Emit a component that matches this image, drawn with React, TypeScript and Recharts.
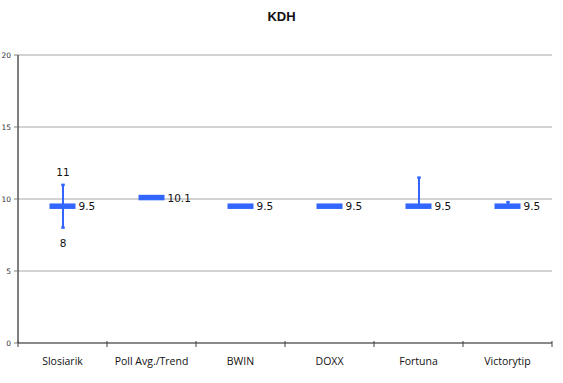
import React from 'react';
import { ComposedChart, Bar, Line, XAxis, YAxis, CartesianGrid, ReferenceLine } from 'recharts';

const categories = ['Slosiarik', 'Poll Avg./Trend', 'BWIN', 'DOXX', 'Fortuna', 'Victorytip'];
const values = [9.5, 10.1, 9.5, 9.5, 9.5, 9.5];
const highs: (number | null)[] = [11, null, null, null, 11.5, 9.8];
const lows: (number | null)[] = [8, null, null, null, 9.5, 9.5];
const highLabels = ['11', '', '', '', '', ''];
const lowLabels = ['8', '', '', '', '', ''];
const yTicks = [0, 5, 10, 15, 20];

const BLUE = '#3366ff';
const TICK_MARGIN = 15;

const data = categories.map((name, i) => ({
  name,
  value: values[i],
  range: highs[i] != null && lows[i] != null ? [lows[i], highs[i]] : null,
  hiLabel: highLabels[i],
  loLabel: lowLabels[i],
}));

const Dash = (props: any) => {
  const { cx, cy, payload } = props;
  if (cx == null || cy == null) return <g />;
  return (
    <g>
      <rect x={cx - 13} y={cy - 2.75} width={26} height={5.5} fill={BLUE} />
      <text x={cx + 16} y={cy} dominantBaseline="central" fontSize={10.5} fontFamily="DejaVu Sans" fill="#111">
        {payload.value}
      </text>
    </g>
  );
};

const Err = (props: any) => {
  const { x, y, width, height, payload } = props;
  if (x == null || y == null || height == null || !payload || !payload.range) return <g />;
  const cx = x + width / 2;
  return (
    <g>
      <line x1={cx} x2={cx} y1={y} y2={y + height} stroke={BLUE} strokeWidth={2} />
      <rect x={cx - 1.75} y={y - 1} width={3.5} height={2.5} fill={BLUE} />
      <rect x={cx - 1.75} y={y + height - 1.5} width={3.5} height={2.5} fill={BLUE} />
      {payload.hiLabel ? (
        <text x={cx} y={y - 13} textAnchor="middle" dominantBaseline="central" fontSize={10.5} fontFamily="DejaVu Sans" fill="#111">
          {payload.hiLabel}
        </text>
      ) : null}
      {payload.loLabel ? (
        <text x={cx} y={y + height + 15} textAnchor="middle" dominantBaseline="central" fontSize={10.5} fontFamily="DejaVu Sans" fill="#111">
          {payload.loLabel}
        </text>
      ) : null}
    </g>
  );
};

const CategoryTick = (props: any) => {
  const { x, y, width, visibleTicksCount, index, payload } = props;
  if (x == null || y == null) return <g />;
  const band = width / visibleTicksCount;
  const axisY = y - TICK_MARGIN;
  const left = x - band / 2;
  const right = x + band / 2;
  return (
    <g>
      <line x1={left} x2={left} y1={axisY - 2} y2={axisY + 4} stroke="#404040" strokeWidth={1} />
      {index === visibleTicksCount - 1 ? (
        <line x1={right} x2={right} y1={axisY - 2} y2={axisY + 4} stroke="#404040" strokeWidth={1} />
      ) : null}
      <text x={x} y={y} dy="0.71em" textAnchor="middle" fontSize={10.5} fill="#111" fontFamily="Open Sans, sans-serif">
        {payload.value}
      </text>
    </g>
  );
};

export default function App() {
  return (
    <div style={{ position: 'absolute', left: 0, top: 0, width: 563, height: 383, background: '#fff' }}>
      <div
        style={{
          position: 'absolute',
          left: 0,
          top: 9,
          width: 563,
          textAlign: 'center',
          fontFamily: 'Liberation Sans, Arial, sans-serif',
          fontWeight: 'bold',
          fontSize: 13,
          color: '#111',
        }}
      >
        KDH
      </div>
      <ComposedChart width={563} height={383} data={data} margin={{ top: 55, right: 11, left: 0, bottom: 10 }}>
        <CartesianGrid vertical={false} stroke="#a6a6a6" />
        <XAxis
          xAxisId="c"
          dataKey="name"
          height={30}
          axisLine={{ stroke: '#404040' }}
          tickLine={false}
          tickSize={0}
          tickMargin={TICK_MARGIN}
          interval={0}
          tick={<CategoryTick />}
        />
        <XAxis xAxisId="b" type="number" domain={[0, 6]} hide height={0} />
        <YAxis
          domain={[0, 20]}
          ticks={yTicks}
          width={18}
          axisLine={{ stroke: '#000' }}
          tickLine={{ stroke: '#808080' }}
          tickSize={4}
          tickMargin={3}
          tick={{ fontSize: 7.5, fill: '#333', fontFamily: 'DejaVu Sans' }}
        />
        <ReferenceLine xAxisId="b" x={6} stroke="#808080" />
        <Bar xAxisId="c" dataKey="range" barSize={2} shape={<Err />} isAnimationActive={false} />
        <Line
          xAxisId="c"
          dataKey="value"
          stroke="none"
          dot={<Dash />}
          activeDot={false}
          isAnimationActive={false}
        />
      </ComposedChart>
    </div>
  );
}
